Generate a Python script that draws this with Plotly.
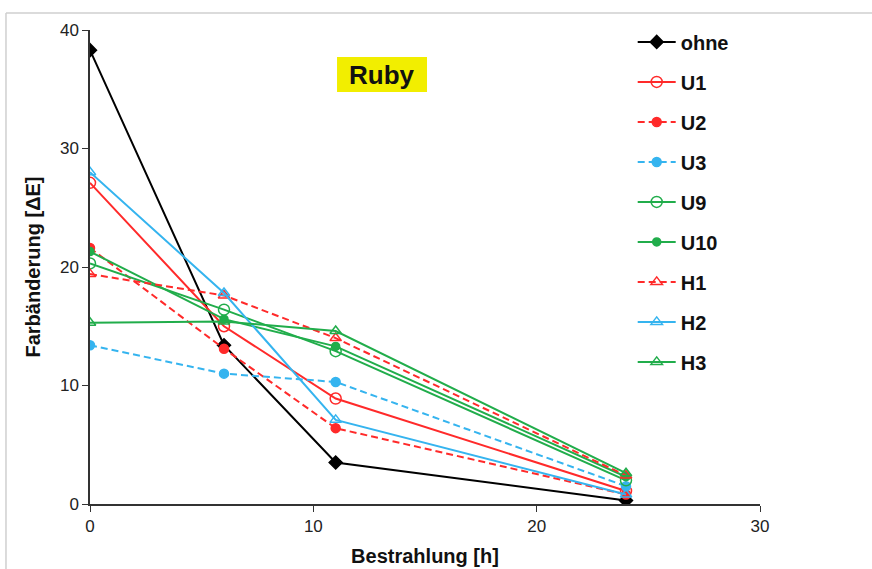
import plotly.graph_objects as go

# Bestrahlungszeiten [h]
hours = [0, 6, 11, 24]

# Farbänderung ΔE je Variante
ohne = [38.3, 13.4, 3.5, 0.3]
u1 = [27.1, 15.0, 8.9, 1.1]
u2 = [21.6, 13.1, 6.4, 0.8]
u3 = [13.4, 11.0, 10.3, 1.5]
u9 = [20.3, 16.4, 12.9, 2.0]
u10 = [21.3, 15.6, 13.3, 2.3]
h1 = [19.4, 17.6, 14.0, 2.4]
h2 = [28.0, 17.8, 7.1, 0.8]
h3 = [15.3, 15.4, 14.6, 2.6]

x_ticks = [0, 10, 20, 30]
y_ticks = [0, 10, 20, 30, 40]

BLACK = "#000000"
RED = "#ff2a2a"
BLUE = "#35b4ef"
GREEN = "#21ad4b"
DASH = "7px,4px"

series = [
    ("ohne", ohne, BLACK, "solid", "diamond", 10),
    ("U1", u1, RED, "solid", "circle-open", 11),
    ("U2", u2, RED, DASH, "circle", 9),
    ("U3", u3, BLUE, DASH, "circle", 9),
    ("U9", u9, GREEN, "solid", "circle-open", 11),
    ("U10", u10, GREEN, "solid", "circle", 8),
    ("H1", h1, RED, DASH, "triangle-up-open", 10),
    ("H2", h2, BLUE, "solid", "triangle-up-open", 10),
    ("H3", h3, GREEN, "solid", "triangle-up-open", 10),
]

FONT = "Liberation Sans, Arial, sans-serif"

fig = go.Figure()
for name, vals, color, dash, symbol, size in series:
    fig.add_trace(go.Scatter(
        x=hours, y=vals, name=f"<b>{name}</b>", mode="lines+markers",
        legendgroup=name,
        line=dict(color=color, width=2, dash=dash),
        marker=dict(color=color, symbol=symbol, size=size,
                    line=dict(color=color, width=1.5)),
    ))

axis_font = dict(family=FONT, size=17, color="#222222")
title_font = dict(family=FONT, size=20, color="#111111")

fig.update_layout(
    width=872, height=569,
    margin=dict(l=90, r=112, t=30, b=65),
    paper_bgcolor="white", plot_bgcolor="white",
    showlegend=True,
    legend=dict(
        x=0.81, y=1.016, xanchor="left", yanchor="top",
        font=dict(family=FONT, size=20, color="#111111"),
        tracegroupgap=11, itemwidth=38, maxheight=600,
        bgcolor="rgba(0,0,0,0)",
    ),
    xaxis=dict(
        range=[0, 30], tickvals=x_ticks, showgrid=False, zeroline=False,
        showline=True, linecolor="#333333", linewidth=1.5,
        ticks="outside", ticklen=6, tickcolor="#333333",
        tickfont=axis_font, automargin=False,
        title=dict(text="<b>Bestrahlung [h]</b>", font=title_font, standoff=14),
    ),
    yaxis=dict(
        range=[0, 40], tickvals=y_ticks, showgrid=False, zeroline=False,
        showline=True, linecolor="#333333", linewidth=1.5,
        ticks="outside", ticklen=6, tickcolor="#333333",
        tickfont=axis_font, automargin=False,
        title=dict(text="<b>Farbänderung [ΔE]</b>", font=title_font, standoff=14),
    ),
    annotations=[dict(
        x=0.436, y=0.906, xref="paper", yref="paper",
        xanchor="center", yanchor="middle",
        text="<b>Ruby</b>", showarrow=False,
        font=dict(family=FONT, size=26, color="#111111"),
    )],
    shapes=[
        # yellow label box behind the title text
        dict(type="rect", xref="paper", yref="paper", layer="below",
             x0=0.3687, x1=0.503, y0=0.869, y1=0.943,
             fillcolor="#f2ee00", line=dict(width=0)),
        # light frame around the figure
        dict(type="line", xref="paper", yref="paper",
             x0=-0.1254, x1=1.2, y0=1.036, y1=1.036,
             line=dict(color="#cfcfcf", width=1.5)),
        dict(type="line", xref="paper", yref="paper",
             x0=-0.1254, x1=-0.1254, y0=1.036, y1=-0.14,
             line=dict(color="#cfcfcf", width=1.5)),
    ],
)

fig.write_html("out.html")
